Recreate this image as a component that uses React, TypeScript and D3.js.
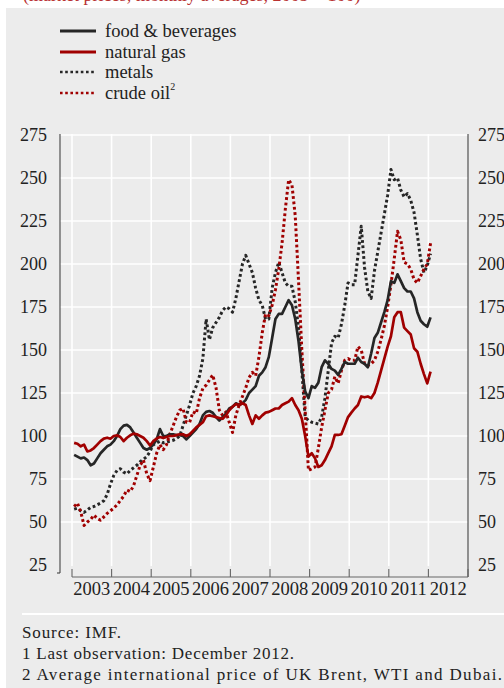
import React from 'react';
import * as d3 from 'd3';

const years = ['2003', '2004', '2005', '2006', '2007', '2008', '2009', '2010', '2011', '2012'];
const yTicks = [25, 50, 75, 100, 125, 150, 175, 200, 225, 250, 275];
const gridTicks = [50, 75, 100, 125, 150, 175, 200, 225, 250, 275];

// monthly index values, Jan 2003 onwards (2005 = 100)
const food = [
  89, 88, 87, 87.5, 86, 83, 84, 87, 90, 92, 94, 95,
  97, 100, 104, 106, 106.5, 105, 102, 99, 96, 93, 92, 93,
  95, 98, 104, 100, 100, 101, 101, 100.5, 100.5, 100, 98, 100,
  102, 104, 107, 112, 114, 114.5, 113.5, 111, 109, 111, 113, 116,
  117, 119, 118, 119, 121, 125, 127, 129, 135, 137, 140, 146,
  157, 168, 171, 171, 175, 179, 176, 168, 155, 138, 126, 122,
  129, 128, 131, 140, 144, 142, 139, 138, 135.5, 139, 143, 142,
  142, 142, 145.5, 143, 142, 140, 148, 157, 160, 166, 172, 179,
  190, 189, 194, 190, 186, 184, 184, 180, 172, 167, 165, 163.5,
  169,
];
const gas = [
  96, 95.5, 94, 95, 91, 91.6, 93, 95, 97, 98.5, 99, 98.4,
  100, 100.4, 99.4, 97, 99, 100.4, 101.4, 101, 100, 99, 97, 94.5,
  97, 98.5, 99.4, 98.8, 99.4, 100, 100, 100.5, 101, 101, 100, 101,
  103, 105, 106.5, 108, 111.5, 112, 111.5, 111, 110.5, 110, 112, 115,
  117, 118.5, 118, 119, 118, 112, 107, 112, 110, 112, 113.6, 114,
  115, 116, 116, 118, 119, 120, 122, 118, 115, 110, 100, 88,
  90, 87, 82, 83, 86, 90, 94, 100.6, 100.6, 101, 106, 111,
  113.6, 116, 118, 123, 122.5, 123, 122, 125, 131, 138, 145, 152,
  158, 169, 172, 172, 163, 161, 159, 151, 149, 142, 136, 130.6,
  137.4,
];
const metals = [
  57.5, 58, 56.5, 55.6, 57, 58.5, 59, 60, 61, 62.4, 66, 72,
  77, 80, 81, 79, 78, 80, 81.5, 83, 85, 86.5, 88, 91,
  95, 96, 97, 96, 96.5, 97, 97.5, 98.5, 100, 106, 112, 118,
  125, 129, 135, 145, 168, 156, 163, 166, 169, 173, 175, 174,
  172, 180, 190, 200, 205, 200, 195, 186, 179, 176, 168, 168,
  186, 195, 201, 195, 189, 187, 187, 178, 163, 138, 111, 109,
  108, 107.5, 107, 111, 122, 138, 154, 158, 157, 165, 176, 189,
  188, 188, 205, 222, 198, 184, 180, 196, 207, 218, 229, 240,
  255, 249, 250, 243, 239, 241, 237, 230, 217, 203, 195, 199,
  206,
];
const crude = [
  59, 61, 56, 48, 50, 51.5, 54, 52, 51, 53, 55, 56.5,
  58, 60, 62.5, 65, 68.6, 67.7, 71, 77, 83, 86, 78, 74,
  82, 90, 95, 92, 95, 101, 106, 111, 115, 116, 108, 108,
  114, 113, 122, 127.7, 129.6, 132.6, 135.5, 128, 115, 112, 114, 108,
  102, 112, 118, 123, 128, 134, 137, 135, 146, 160, 171, 170,
  176, 185, 197, 212, 232, 249, 246, 228, 190, 150, 115, 80,
  81, 82, 93, 105, 115, 125, 127, 134.5, 130.6, 138, 144, 145,
  144, 144, 152, 150, 142, 141, 142, 144, 149, 156, 164, 175,
  188, 203, 219, 214, 201, 200, 197, 191, 189, 193, 197, 200,
  212,
];

const legendLabels = ['food & beverages', 'natural gas', 'metals', 'crude oil'];
const footnotes = [
  'Source: IMF.',
  '1 Last observation: December 2012.',
  '2 Average international price of UK Brent, WTI and Dubai.',
];
const headerText = '(market prices; monthly averages, 2005 = 100)';

const BLACK = '#262626';
const RED = '#a00000';
const FONT = '"Liberation Serif", "DejaVu Serif", serif';

export default function App() {
  const x = d3.scaleLinear().domain([2003, 2013]).range([72, 468]);
  const y = d3.scaleLinear().domain([25, 275]).range([565, 135]);
  const mx = (i: number) => x(2003 + (i + 0.65) / 12);
  const line = d3
    .line<number>()
    .x((_, i) => mx(i))
    .y((d) => y(d))
    .curve(d3.curveLinear);

  const series = [
    { data: metals, color: BLACK, dotted: true },
    { data: crude, color: RED, dotted: true },
    { data: food, color: BLACK, dotted: false },
    { data: gas, color: RED, dotted: false },
  ];
  const legendStyles = [
    { color: BLACK, dotted: false },
    { color: RED, dotted: false },
    { color: BLACK, dotted: true },
    { color: RED, dotted: true },
  ];
  const legendY = [31, 52, 72, 93];
  const footY = [638, 659, 680];
  const footW = [99, 272, 480];

  return (
    <svg
      width={504}
      height={688}
      style={{ position: 'absolute', left: 0, top: 0, fontFamily: FONT }}
    >
      <rect x={0} y={0} width={504} height={688} fill="#ffffff" />
      <text x={23} y={0.5} fontSize={18} fill="#b83232">
        {headerText}
      </text>
      <rect x={6} y={8} width={498} height={680} fill="#ececec" />

      {/* legend */}
      {legendLabels.map((lab, i) => (
        <g key={lab}>
          <line
            x1={60}
            x2={96}
            y1={legendY[i]}
            y2={legendY[i]}
            stroke={legendStyles[i].color}
            strokeWidth={legendStyles[i].dotted ? 2.6 : 3}
            strokeDasharray={legendStyles[i].dotted ? '2.6 2.6' : undefined}
          />
          <text x={105} y={legendY[i]} dy="0.33em" fontSize={18.5} fill="#222">
            {lab}
            {i === 3 ? (
              <tspan fontSize={10} dy="-0.9em">
                2
              </tspan>
            ) : null}
          </text>
        </g>
      ))}

      {/* gridlines */}
      {gridTicks.map((t) => (
        <line key={'h' + t} x1={60} x2={468} y1={y(t)} y2={y(t)} stroke="#ffffff" strokeWidth={1.6} />
      ))}
      {years.map((yr, i) => (
        <line
          key={'v' + yr}
          x1={x(2003 + i)}
          x2={x(2003 + i)}
          y1={134}
          y2={566}
          stroke="#ffffff"
          strokeWidth={1.6}
        />
      ))}

      {/* axes */}
      <line x1={60} x2={60} y1={134} y2={573} stroke="#444" strokeWidth={1.1} />
      <line x1={57} x2={60} y1={573} y2={573} stroke="#444" strokeWidth={1.1} />
      <line x1={468} x2={468} y1={134} y2={577} stroke="#444" strokeWidth={1.1} />
      <line x1={x(2003)} x2={x(2013)} y1={577} y2={577} stroke="#666" strokeWidth={1.1} />
      {d3.range(2003, 2014).map((yr) => (
        <line key={'t' + yr} x1={x(yr)} x2={x(yr)} y1={569} y2={577} stroke="#666" strokeWidth={1.1} />
      ))}

      {/* tick labels */}
      {yTicks.map((t) => (
        <g key={'yl' + t}>
          <text x={47} y={y(t)} dy="0.34em" textAnchor="end" fontSize={18} fill="#222">
            {t}
          </text>
          <text x={478} y={y(t)} dy="0.34em" textAnchor="start" fontSize={18} fill="#222">
            {t}
          </text>
        </g>
      ))}
      {years.map((yr, i) => (
        <text key={'xl' + yr} x={x(2003 + i + 0.5)} y={595} textAnchor="middle" fontSize={18.5} fill="#222">
          {yr}
        </text>
      ))}

      {/* series */}
      {series.map((s, i) => (
        <path
          key={'s' + i}
          d={line(s.data) || ''}
          fill="none"
          stroke={s.color}
          strokeWidth={s.dotted ? 3 : 2.7}
          strokeDasharray={s.dotted ? '2.8 2.6' : undefined}
          strokeLinejoin="round"
        />
      ))}

      {/* footer */}
      <line x1={22} x2={504} y1={614} y2={614} stroke="#ffffff" strokeWidth={2} />
      {footnotes.map((f, i) => (
        <text
          key={'f' + i}
          x={22}
          y={footY[i]}
          fontSize={17}
          fill="#222"
          textLength={footW[i]}
          lengthAdjust="spacing"
        >
          {f}
        </text>
      ))}
    </svg>
  );
}
